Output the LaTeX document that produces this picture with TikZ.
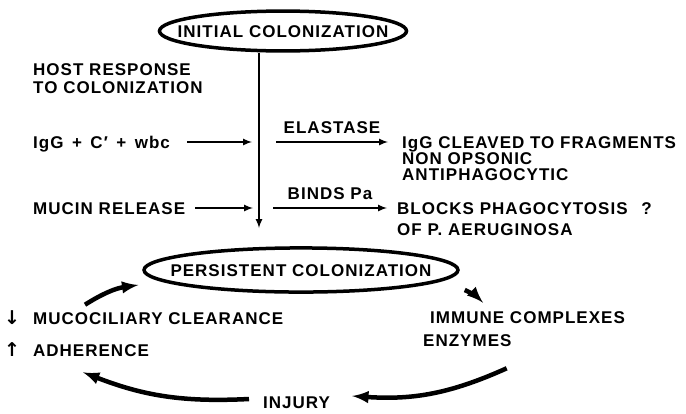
\documentclass[tikz,border=0pt]{standalone}
\usepackage{fontspec}
\newfontfamily\schrift[LetterSpace=6]{Liberation Sans}
\newfontfamily\pfeilschrift{DejaVu Sans}
\usetikzlibrary{shapes.geometric}

\begin{document}
\begin{tikzpicture}[%
        x=1pt, y=-1pt,
        font=\schrift\bfseries\fontsize{17}{17}\selectfont,
        txt/.style={inner sep=0pt, anchor=west, text height=12.2pt, text depth=0pt},
        lab/.style={inner sep=0pt, text height=12.2pt, text depth=0pt},
        oval/.style={ellipse, draw, line width=3.5pt, text height=12.2pt, text depth=0pt},
        pfeil/.style={->, line width=2pt},
        kreis/.style={->, line width=4.5pt},
        >=latex % Pfeilspitzen
        ]
        \useasboundingbox (0,0) rectangle (686,413);

        % Ovale
        \node[oval, inner xsep=-18pt, inner ysep=8pt] (init) at (283,31) {INITIAL COLONIZATION};
        \node[oval, inner xsep=-19.5pt, inner ysep=9.5pt] (pers) at (301,270) {PERSISTENT COLONIZATION};

        % Texte links
        \node[txt] (host1) at (33,69) {HOST RESPONSE};
        \node[txt] (host2) at (33,87.5) {TO COLONIZATION};
        \node[txt] (igg) at (33,142) {IgG\enspace+\enspace C′\enspace+\enspace wbc};
        \node[txt] (mucin) at (33,208) {MUCIN RELEASE};

        % Texte rechts
        \node[txt] (cleave) at (402,142) {IgG CLEAVED TO FRAGMENTS};
        \node[txt] (nonops) at (402,158) {NON OPSONIC};
        \node[txt] (anti) at (402,174) {ANTIPHAGOCYTIC};
        \node[txt] (blocks) at (397,208) {BLOCKS PHAGOCYTOSIS\hspace{8pt} ?};
        \node[txt] (aerug) at (397,229) {OF P. AERUGINOSA};

        % Kreislauf
        \node[txt] (muco) at (4,318) {{\pfeilschrift\fontsize{19}{19}\selectfont ↓}\hspace{13pt}MUCOCILIARY CLEARANCE};
        \node[txt] (adh) at (4,350) {{\pfeilschrift\fontsize{19}{19}\selectfont ↑}\hspace{13pt}ADHERENCE};
        \node[txt] (imm) at (430,317) {IMMUNE COMPLEXES};
        \node[txt] (enz) at (423,340) {ENZYMES};
        \node[txt] (inj) at (263,402) {INJURY};

        % Stamm
        \coordinate (stem) at (259,228);
        \draw[pfeil] (init.south -| stem) -- (stem);

        % Pfeile
        \draw[pfeil] ([xshift=17pt]igg.east) -- ([xshift=-7pt]stem |- igg.east);
        \draw[pfeil] ([xshift=17pt]stem |- cleave.west)
                     -- node[lab, above=8pt] {ELASTASE} ([xshift=-14pt]cleave.west);
        \draw[pfeil] ([xshift=10pt]mucin.east) -- ([xshift=-6pt]stem |- mucin.east);
        \draw[pfeil] ([xshift=14pt]stem |- blocks.west)
                     -- node[lab, above=8pt] {BINDS Pa} ([xshift=-10pt]blocks.west);

        \draw[kreis] ([xshift=81pt,yshift=7pt]muco.north west)
                     to[bend left=12] ([xshift=-4pt,yshift=-15pt]pers.west);
        \draw[kreis] ([xshift=5pt,yshift=-20pt]pers.east)
                     to[bend left=10] ([xshift=53pt,yshift=8pt]imm.north west);
        \draw[kreis] ([xshift=-5pt,yshift=-22pt]enz.south east)
                     to[bend left=14] ([xshift=22pt,yshift=6pt]inj.east);
        \draw[kreis] ([xshift=-14pt,yshift=3pt]inj.west)
                     to[bend left=12] ([xshift=79pt,yshift=-16pt]adh.south west);
\end{tikzpicture}
\end{document}
